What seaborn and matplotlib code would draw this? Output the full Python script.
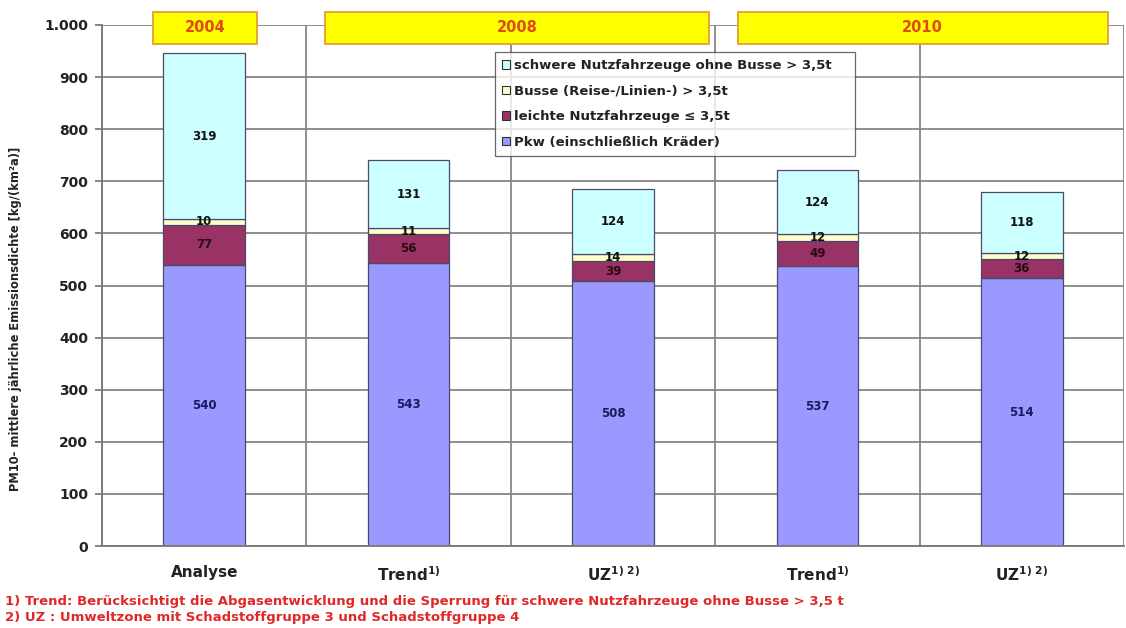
import numpy as np
import pandas as pd
import seaborn as sns
import matplotlib.pyplot as plt
from matplotlib.patches import Patch, Rectangle
from matplotlib.transforms import blended_transform_factory

# Scenarios (x axis) and emission shares per vehicle group
scenario_ids = ["A2004", "T2008", "U2008", "T2010", "U2010"]
tick_labels = ["Analyse", r"Trend$^{\mathbf{1)}}$", r"UZ$^{\mathbf{1)\ 2)}}$",
               r"Trend$^{\mathbf{1)}}$", r"UZ$^{\mathbf{1)\ 2)}}$"]
pkw = [540, 543, 508, 537, 514]
leichte_nfz = [77, 56, 39, 49, 36]
busse = [10, 11, 14, 12, 12]
schwere_nfz = [319, 131, 124, 124, 118]

series_names = ["Pkw (einschließlich Kräder)",
                "leichte Nutzfahrzeuge ≤ 3,5t",
                "Busse (Reise-/Linien-) > 3,5t",
                "schwere Nutzfahrzeuge ohne Busse > 3,5t"]
series_colors = ["#9999FF", "#993366", "#FFFFCC", "#CCFFFF"]
label_colors = ["#1a1a5e", "#2a0a14", "#111111", "#111111"]

# Year groups drawn as banners above the plot (x span in category units)
years = ["2004", "2008", "2010"]
year_spans = [(-0.25, 0.26), (0.59, 2.47), (2.61, 4.42)]

footnotes = ["1) Trend: Berücksichtigt die Abgasentwicklung und die Sperrung für schwere Nutzfahrzeuge ohne Busse > 3,5 t",
             "2) UZ : Umweltzone mit Schadstoffgruppe 3 und Schadstoffgruppe 4"]

sns.set_theme(style="white")
plt.rcParams["font.family"] = ["DejaVu Sans"]
plt.rcParams["font.weight"] = "bold"
plt.rcParams["mathtext.default"] = "bf"

df = pd.DataFrame({"scenario": scenario_ids, "s0": pkw, "s1": leichte_nfz,
                   "s2": busse, "s3": schwere_nfz})

fig = plt.figure(figsize=(11.26, 6.28), dpi=100)
ax = fig.add_axes([102 / 1126, 82 / 628, 1022 / 1126, 521 / 628])

ax.set_axisbelow(True)
ax.yaxis.grid(True, color="#868686", linewidth=1.3)

bottom = np.zeros(len(scenario_ids))
for i, col in enumerate(["s0", "s1", "s2", "s3"]):
    sns.barplot(data=df, x="scenario", y=col, order=scenario_ids, bottom=bottom,
                color=series_colors[i], saturation=1, width=0.4,
                edgecolor="#4a4a6a", linewidth=0.9, ax=ax)
    vals = df[col].to_numpy()
    for xi, (b, v) in enumerate(zip(bottom, vals)):
        ax.text(xi, b + v / 2, f"{v}", ha="center", va="center", fontsize=8.5,
                fontweight="bold", color=label_colors[i])
    bottom = bottom + vals

ax.set_xlim(-0.5, 4.5)
ax.set_ylim(0, 1000)
ax.set_yticks(np.arange(0, 1001, 100))
ax.set_yticklabels([f"{v:,}".replace(",", ".") for v in range(0, 1001, 100)],
                   fontsize=10, fontweight="bold", color="#222222")
ax.set_xticks(range(len(scenario_ids)))
ax.set_xticklabels(tick_labels, fontsize=11, fontweight="bold", color="#222222")
ax.set_xticks(np.arange(-0.5, 4.6, 1.0), minor=True)
ax.xaxis.grid(True, which="minor", color="#868686", linewidth=1.3)
ax.tick_params(axis="x", which="major", length=0, pad=14)
ax.tick_params(axis="x", which="minor", length=5, color="#777777", direction="out")
ax.tick_params(axis="y", length=5, color="#777777", direction="out", pad=5, left=True)
ax.set_xlabel("")
ax.set_ylabel("PM10- mittlere jährliche Emissionsdichte [kg/(km²a)]",
              fontsize=8.3, fontweight="bold", color="#222222")
ax.yaxis.set_label_coords((22 - 102) / 1022, (546 - 319) / 521)
for side in ["top", "right"]:
    ax.spines[side].set_visible(False)
for side in ["left", "bottom"]:
    ax.spines[side].set_color("#777777")
    ax.spines[side].set_linewidth(1.3)

# Legend, entries listed top-down in reverse stacking order
handles = [Patch(facecolor=series_colors[i], edgecolor="#333333", linewidth=0.8,
                 label=series_names[i]) for i in range(3, -1, -1)]
leg = ax.legend(handles=handles, loc="upper left",
                bbox_to_anchor=((495 - 102) / 1022, (546 - 52) / 521, 360 / 1022, 0.0),
                mode="expand", borderaxespad=0, fontsize=9.5, handlelength=0.6,
                handleheight=0.6, handletextpad=0.3, labelspacing=0.95,
                frameon=True, fancybox=False, borderpad=0.55)
leg.get_frame().set_edgecolor("#444444")
leg.get_frame().set_linewidth(0.9)
for t in leg.get_texts():
    t.set_color("#222222")

# Year banners
trans = blended_transform_factory(ax.transData, fig.transFigure)
y0, y1 = 1 - 44 / 628, 1 - 12 / 628
for yr, (xa, xb) in zip(years, year_spans):
    ax.add_patch(Rectangle((xa, y0), xb - xa, y1 - y0, transform=trans,
                           facecolor="#FFFF00", edgecolor="#E0A030",
                           linewidth=1.3, clip_on=False, zorder=5))
    ax.text((xa + xb) / 2, (y0 + y1) / 2, yr, transform=trans, ha="center",
            va="center", fontsize=10.5, fontweight="bold", color="#E04A10",
            zorder=6, clip_on=False)

# Footnotes
fig.text(5 / 1126, 1 - 601 / 628, footnotes[0], fontsize=9.5, fontweight="bold",
         color="#E02828", va="center", ha="left")
fig.text(5 / 1126, 1 - 617 / 628, footnotes[1], fontsize=9.5, fontweight="bold",
         color="#E02828", va="center", ha="left")

fig.savefig("out.png", dpi=100, facecolor="white")
